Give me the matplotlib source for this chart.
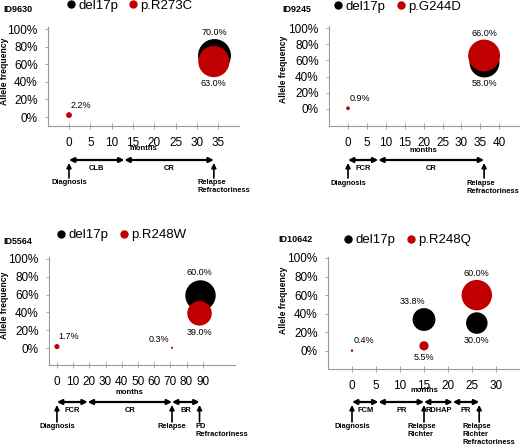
import numpy as np
import matplotlib
matplotlib.use("Agg")
import matplotlib.pyplot as plt
from matplotlib.lines import Line2D
from matplotlib.transforms import blended_transform_factory

plt.rcParams['font.family'] = ['Liberation Sans', 'DejaVu Sans']

W, H = 520, 447
RED = '#c00000'
SIZE_K = 800  # marker area (pt^2) of a 100% bubble

# ID9630
id9630_del_x = [34]
id9630_del_y = [70.0]
id9630_mut_x = [0, 34]
id9630_mut_y = [2.2, 63.0]
id9630_edges = [0, 13, 34]
id9630_phases = ['CLB', 'CR']
id9630_event_x = [0, 34]
id9630_events = ['Diagnosis', 'Relapse\nRefractoriness']

# ID9245
id9245_del_x = [36]
id9245_del_y = [58.0]
id9245_mut_x = [0, 36]
id9245_mut_y = [0.9, 66.0]
id9245_edges = [0, 8, 36]
id9245_phases = ['FCR', 'CR']
id9245_event_x = [0, 36]
id9245_events = ['Diagnosis', 'Relapse\nRefractoriness']

# ID5564
id5564_del_x = [88]
id5564_del_y = [60.0]
id5564_mut_x = [0, 71, 88]
id5564_mut_y = [1.7, 0.3, 39.0]
id5564_edges = [0, 19, 71, 88]
id5564_phases = ['FCR', 'CR', 'BR']
id5564_event_x = [0, 71, 88]
id5564_events = ['Diagnosis', 'Relapse', 'PD\nRefractoriness']

# ID10642
id10642_del_x = [15, 26]
id10642_del_y = [33.8, 30.0]
id10642_mut_x = [0, 15, 26]
id10642_mut_y = [0.4, 5.5, 60.0]
id10642_edges = [0, 5.5, 15, 21, 26.5]
id10642_phases = ['FCM', 'PR', 'RDHAP', 'PR']
id10642_event_x = [0, 15, 26.5]
id10642_events = ['Diagnosis', 'Relapse\nRichter', 'Relapse\nRichter\nRefractoriness']

fig = plt.figure(figsize=(W / 100, H / 100), dpi=100)


def fy(y):
    return 1 - y / H


def bubble_label(ax, x, v, pos):
    r = np.sqrt(SIZE_K * v / 100) / 2
    if pos == 'above':
        off, ha, va = (0, r + 1.5), 'center', 'bottom'
    elif pos == 'aboveleft':
        off, ha, va = (-8, r + 1.5), 'center', 'bottom'
    elif pos == 'below':
        off, ha, va = (0, -r - 1.5), 'center', 'top'
    elif pos == 'ur':
        off, ha, va = (1, 4), 'left', 'bottom'
    else:
        off, ha, va = (-2, 3), 'right', 'bottom'
    ax.annotate(f"{v:.1f}%", (x, v / 100), xytext=off, textcoords='offset points',
                ha=ha, va=va, fontsize=6.5)


def panel(box, xlim, ylim, xticks, name, mutation, del_x, del_y, mut_x, mut_y,
          del_pos, mut_pos, edges, phases, ev_x, events, ev_dx, rows,
          legend_xy, title_xy, ylab_xy):
    x0, x1, y0, y1 = box
    ax = fig.add_axes([x0 / W, fy(y1), (x1 - x0) / W, (y1 - y0) / H])
    ax.set_xlim(*xlim)
    ax.set_ylim(*ylim)
    for s in ['top', 'right']:
        ax.spines[s].set_visible(False)
    for s in ['left', 'bottom']:
        ax.spines[s].set_color('#9a9a9a')
        ax.spines[s].set_linewidth(0.8)
    ax.set_xticks(xticks)
    ax.set_yticks(np.arange(0, 1.01, 0.2))
    ax.set_yticklabels([f"{int(round(t * 100))}%" for t in np.arange(0, 1.01, 0.2)])
    ax.tick_params(axis='x', direction='inout', length=4, width=0.6, color='#9a9a9a',
                   pad=6, labelsize=8.5)
    ax.tick_params(axis='y', direction='out', length=2.5, width=0.6, color='#9a9a9a',
                   pad=5, labelsize=8.5)

    dx = np.array(del_x)
    dy = np.array(del_y)
    mx = np.array(mut_x)
    my = np.array(mut_y)
    ax.scatter(dx, dy / 100, s=SIZE_K * dy / 100, color='black', linewidths=0,
               zorder=3, clip_on=False)
    ax.scatter(mx, my / 100, s=SIZE_K * my / 100, color=RED, linewidths=0,
               zorder=4, clip_on=False)
    for x, v, p in zip(del_x, del_y, del_pos):
        bubble_label(ax, x, v, p)
    for x, v, p in zip(mut_x, mut_y, mut_pos):
        bubble_label(ax, x, v, p)

    trans = blended_transform_factory(ax.transData, fig.transFigure)
    arrow_y, phase_y, up_top, up_bottom, event_y, months_y = rows
    ax.text((xticks[0] + xticks[-1]) / 2, fy(months_y), 'months', transform=trans,
            ha='center', va='center', fontsize=5.5, fontweight='bold')
    for a, b, lab in zip(edges[:-1], edges[1:], phases):
        ax.annotate('', xy=(b, fy(arrow_y)), xytext=(a, fy(arrow_y)),
                    xycoords=trans, textcoords=trans, annotation_clip=False,
                    arrowprops=dict(arrowstyle='<|-|>', color='black', lw=1.6,
                                    mutation_scale=7, shrinkA=0, shrinkB=0))
        ax.text((a + b) / 2, fy(phase_y), lab, transform=trans, ha='center',
                va='center', fontsize=5.4, fontweight='bold')
    for x, lab, d in zip(ev_x, events, ev_dx):
        ax.annotate('', xy=(x, fy(up_top)), xytext=(x, fy(up_bottom)),
                    xycoords=trans, textcoords=trans, annotation_clip=False,
                    arrowprops=dict(arrowstyle='-|>', color='black', lw=1.2,
                                    mutation_scale=7, shrinkA=0, shrinkB=0))
        ax.annotate(lab, (x, fy(event_y)), xycoords=trans,
                    xytext=(0 if d is None else d, 0), textcoords='offset points',
                    ha='center' if d is None else 'left', va='top', fontsize=5.4,
                    fontweight='bold', linespacing=1.15, annotation_clip=False)

    handles = [Line2D([], [], marker='o', ls='', color='black', markersize=5),
               Line2D([], [], marker='o', ls='', color=RED, markersize=5)]
    ax.legend(handles, ['del17p', mutation], loc='center', ncol=2, frameon=False,
              bbox_to_anchor=(legend_xy[0] / W, fy(legend_xy[1])),
              bbox_transform=fig.transFigure, fontsize=9.5, handlelength=0.5,
              handletextpad=0.3, columnspacing=0.9, borderpad=0, borderaxespad=0)
    fig.text(title_xy[0] / W, fy(title_xy[1]), name, ha='left', va='center',
             fontsize=6.5, fontweight='bold')
    fig.text(ylab_xy[0] / W, fy(ylab_xy[1]), 'Allele frequency', rotation=90,
             ha='center', va='center', fontsize=6.2, fontweight='bold')
    return ax


panel((48, 239, 27, 126), (-4.93, 39.9), (-0.102, 1.023), np.arange(0, 36, 5),
      'ID9630', 'p.R273C', id9630_del_x, id9630_del_y, id9630_mut_x, id9630_mut_y,
      ['above'], ['ur', 'below'], id9630_edges, id9630_phases,
      id9630_event_x, id9630_events, [None, -12],
      (160, 168, 163, 178, 179, 149), (130, 6), (3, 10), (5, 71))

panel((329, 520, 26, 126), (-5.03, 45.5), (-0.21, 1.025), np.arange(0, 41, 5),
      'ID9245', 'p.G244D', id9245_del_x, id9245_del_y, id9245_mut_x, id9245_mut_y,
      ['below'], ['ur', 'above'], id9245_edges, id9245_phases,
      id9245_event_x, id9245_events, [None, -13],
      (160, 168, 163, 178, 180, 150), (398, 7), (282, 10), (284, 69))

panel((49, 235, 257, 365), (-4.9, 109.9), (-0.19, 1.022), np.arange(0, 91, 10),
      'ID5564', 'p.R248W', id5564_del_x, id5564_del_y, id5564_mut_x, id5564_mut_y,
      ['above'], ['ur', 'ul', 'below'], id5564_edges, id5564_phases,
      id5564_event_x, id5564_events, [None, None, -3],
      (402, 410, 405, 422, 423, 392), (122, 235), (3, 241), (5, 305))

panel((328, 520, 257, 369), (-5.0, 35.0), (-0.194, 1.01), np.arange(0, 31, 5),
      'ID10642', 'p.R248Q', id10642_del_x, id10642_del_y, id10642_mut_x, id10642_mut_y,
      ['aboveleft', 'below'], ['ur', 'below', 'above'], id10642_edges, id10642_phases,
      id10642_event_x, id10642_events, [None, -12, -12],
      (402, 411, 405, 422, 423, 391), (408, 240), (278, 240), (284, 300))

fig.savefig('out.png', dpi=100)
